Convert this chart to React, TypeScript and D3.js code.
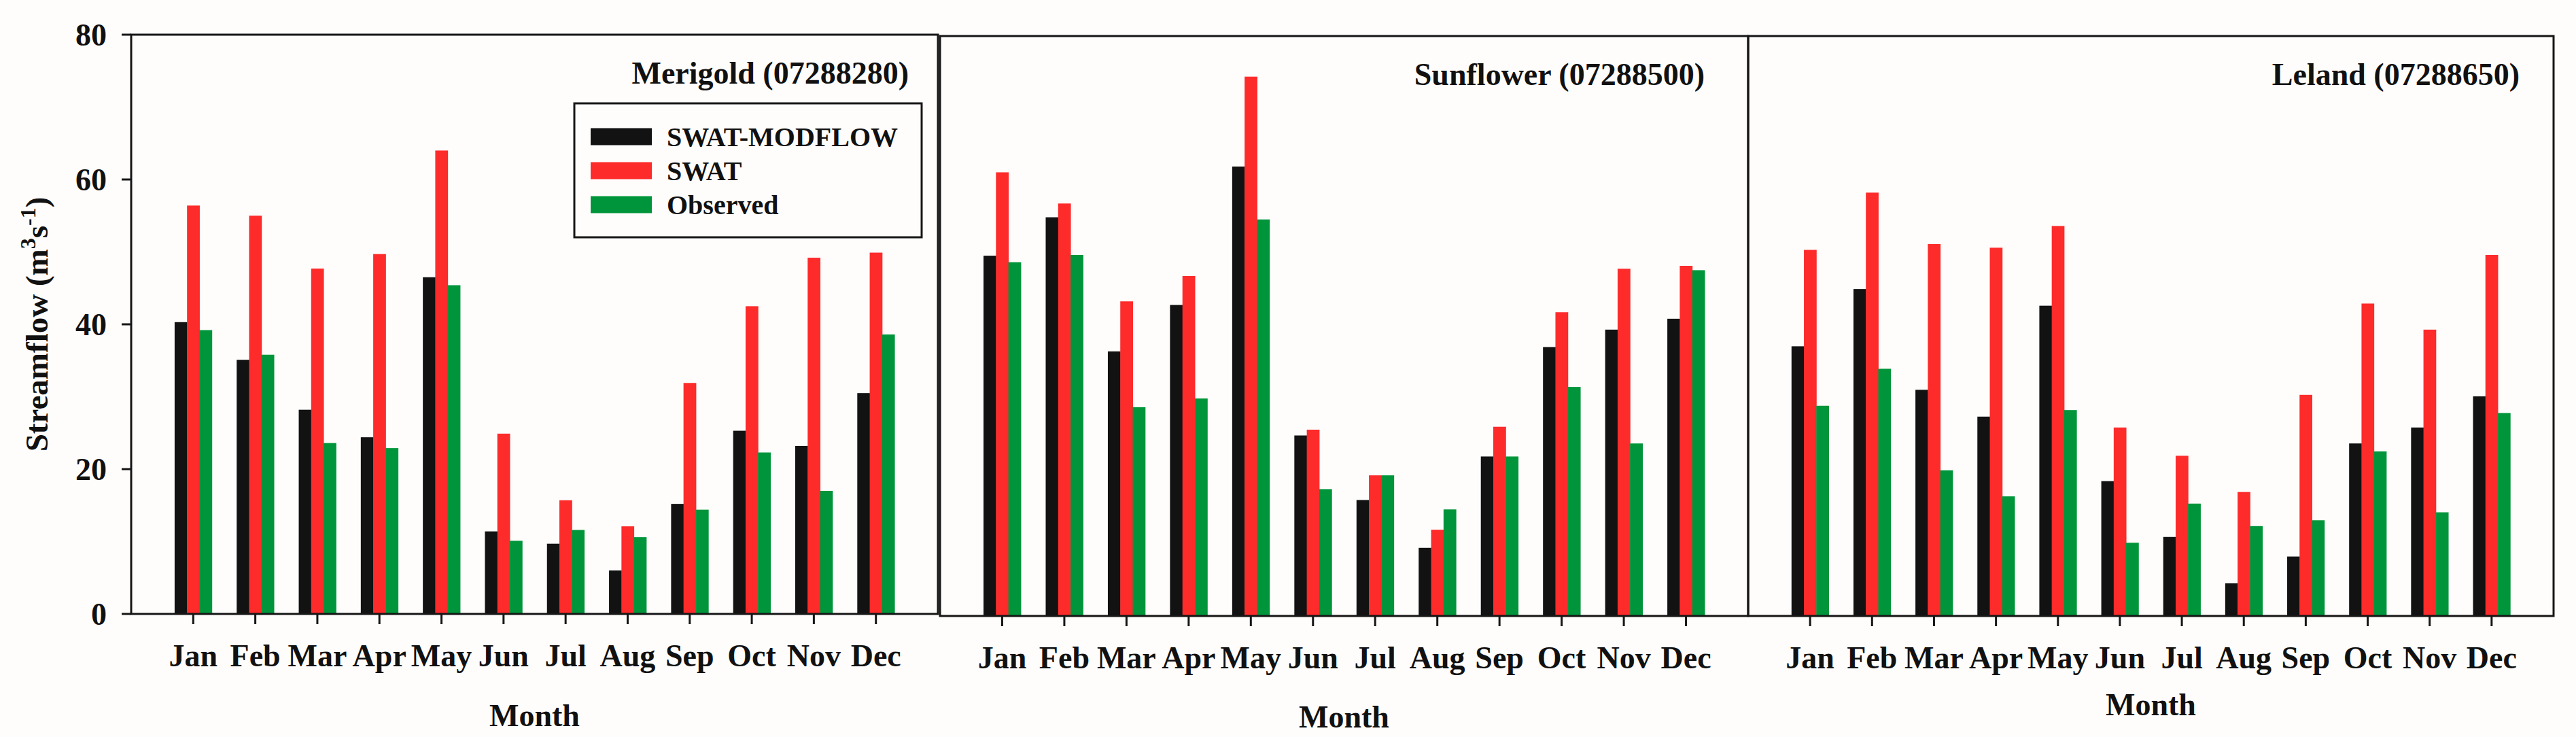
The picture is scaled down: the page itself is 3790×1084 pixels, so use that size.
import { useEffect, useRef } from 'react'
import * as d3 from 'd3'

const months = ['Jan', 'Feb', 'Mar', 'Apr', 'May', 'Jun', 'Jul', 'Aug', 'Sep', 'Oct', 'Nov', 'Dec']
const seriesNames = ['SWAT-MODFLOW', 'SWAT', 'Observed']
const seriesColors = ['#121212', '#fe2b2b', '#00953a']
const yTicks = [0, 20, 40, 60, 80]
const stationNames = ['Merigold (07288280)', 'Sunflower (07288500)', 'Leland (07288650)']

const merigoldSwatModflow = [40.3, 35.1, 28.2, 24.4, 46.5, 11.4, 9.7, 6.0, 15.2, 25.3, 23.2, 30.5]
const merigoldSwat = [56.4, 55.0, 47.7, 49.7, 64.0, 24.9, 15.7, 12.1, 31.9, 42.5, 49.2, 49.9]
const merigoldObserved = [39.2, 35.8, 23.6, 22.9, 45.4, 10.1, 11.6, 10.6, 14.4, 22.3, 17.0, 38.6]

const sunflowerSwatModflow = [49.7, 55.0, 36.5, 42.9, 62.0, 24.9, 16.0, 9.4, 22.0, 37.1, 39.5, 41.0]
const sunflowerSwat = [61.2, 56.9, 43.4, 46.9, 74.4, 25.7, 19.4, 11.9, 26.1, 41.9, 47.9, 48.3]
const sunflowerObserved = [48.8, 49.8, 28.8, 30.0, 54.7, 17.5, 19.4, 14.7, 22.0, 31.6, 23.8, 47.7]

const lelandSwatModflow = [37.2, 45.1, 31.2, 27.5, 42.8, 18.6, 10.9, 4.5, 8.2, 23.8, 26.0, 30.3]
const lelandSwat = [50.5, 58.4, 51.3, 50.8, 53.8, 26.0, 22.1, 17.1, 30.5, 43.1, 39.5, 49.8]
const lelandObserved = [29.0, 34.1, 20.1, 16.5, 28.4, 10.1, 15.5, 12.4, 13.2, 22.7, 14.3, 28.0]

const FONT = '"Liberation Serif", "Times New Roman", serif'

export default function App() {
  const svgRef = useRef<SVGSVGElement>(null)

  useEffect(() => {
    if (!svgRef.current) return
    const svg = d3.select(svgRef.current)
    svg.selectAll('*').remove()

    const W = 3790
    const H = 1084
    svg.attr('width', W).attr('height', H)

    svg.append('rect').attr('width', W).attr('height', H).attr('fill', '#fefdfc')

    // panel frames (pixel layout of the three stations)
    const panels = [
      { name: stationNames[0], left: 193, right: 1380, top: 51, bottom: 903, titleX: 1337, titleY: 123, monthY: 1068,
        values: [merigoldSwatModflow, merigoldSwat, merigoldObserved] },
      { name: stationNames[1], left: 1383, right: 2572, top: 53, bottom: 906, titleX: 2508, titleY: 125, monthY: 1070,
        values: [sunflowerSwatModflow, sunflowerSwat, sunflowerObserved] },
      { name: stationNames[2], left: 2572, right: 3757, top: 53, bottom: 906, titleX: 3707, titleY: 125, monthY: 1052,
        values: [lelandSwatModflow, lelandSwat, lelandObserved] },
    ]

    const lineColor = '#161616'

    panels.forEach((p, pi) => {
      const x = d3.scaleLinear().domain([0, months.length + 1]).range([p.left, p.right])
      const y = d3.scaleLinear().domain([0, 80]).range([p.bottom, p.top])
      const step = x(1) - x(0)
      const barW = step * 0.2

      const g = svg.append('g')

      // bars
      p.values.forEach((vals, si) => {
        g.selectAll(`.bar-${si}`)
          .data(vals)
          .enter()
          .append('rect')
          .attr('x', (d, i) => x(i + 1) - 1.5 * barW + si * barW)
          .attr('width', barW + 0.5)
          .attr('y', d => y(d))
          .attr('height', d => y(0) - y(d))
          .attr('fill', seriesColors[si])
      })

      // frame
      g.append('rect')
        .attr('x', p.left)
        .attr('y', p.top)
        .attr('width', p.right - p.left)
        .attr('height', p.bottom - p.top)
        .attr('fill', 'none')
        .attr('stroke', lineColor)
        .attr('stroke-width', 3)

      // x ticks and labels
      const xAxis = g.append('g')
      months.forEach((m, i) => {
        xAxis.append('line')
          .attr('x1', x(i + 1)).attr('x2', x(i + 1))
          .attr('y1', p.bottom).attr('y2', p.bottom + 15)
          .attr('stroke', lineColor).attr('stroke-width', 3)
        xAxis.append('text')
          .attr('x', x(i + 1))
          .attr('y', p.bottom + 77)
          .attr('text-anchor', 'middle')
          .style('font-family', FONT)
          .style('font-weight', 'bold')
          .style('font-size', '46px')
          .attr('fill', '#111')
          .text(m)
      })

      g.append('text')
        .attr('x', (p.left + p.right) / 2)
        .attr('y', p.monthY)
        .attr('text-anchor', 'middle')
        .style('font-family', FONT)
        .style('font-weight', 'bold')
        .style('font-size', '46px')
        .attr('fill', '#111')
        .text('Month')

      // station title
      g.append('text')
        .attr('x', p.titleX)
        .attr('y', p.titleY)
        .attr('text-anchor', 'end')
        .style('font-family', FONT)
        .style('font-weight', 'bold')
        .style('font-size', '46px')
        .attr('fill', '#111')
        .text(p.name)

      // y axis only on the first panel
      if (pi === 0) {
        yTicks.forEach(t => {
          g.append('line')
            .attr('x1', p.left - 14).attr('x2', p.left)
            .attr('y1', y(t)).attr('y2', y(t))
            .attr('stroke', lineColor).attr('stroke-width', 3)
          g.append('text')
            .attr('x', 157)
            .attr('y', y(t))
            .attr('dy', '0.35em')
            .attr('text-anchor', 'end')
            .style('font-family', FONT)
            .style('font-weight', 'bold')
            .style('font-size', '46px')
            .attr('fill', '#111')
            .text(t)
        })

        const yLabel = g.append('text')
          .attr('transform', `translate(70, ${(p.top + p.bottom) / 2}) rotate(-90)`)
          .attr('text-anchor', 'middle')
          .style('font-family', FONT)
          .style('font-weight', 'bold')
          .style('font-size', '47px')
          .attr('fill', '#111')
        yLabel.append('tspan').text('Streamflow (m')
        yLabel.append('tspan').attr('dy', -18).style('font-size', '32px').text('3')
        yLabel.append('tspan').attr('dy', 18).text('s')
        yLabel.append('tspan').attr('dy', -18).style('font-size', '32px').text('-1')
        yLabel.append('tspan').attr('dy', 18).text(')')

        // legend
        const legend = g.append('g')
        legend.append('rect')
          .attr('x', 845).attr('y', 152)
          .attr('width', 511).attr('height', 197)
          .attr('fill', '#fefdfc')
          .attr('stroke', lineColor)
          .attr('stroke-width', 3)
        seriesNames.forEach((name, i) => {
          const cy = 201 + i * 50
          legend.append('rect')
            .attr('x', 869).attr('y', cy - 12.5)
            .attr('width', 90).attr('height', 25)
            .attr('fill', seriesColors[i])
          legend.append('text')
            .attr('x', 981).attr('y', cy)
            .attr('dy', '0.35em')
            .style('font-family', FONT)
            .style('font-weight', 'bold')
            .style('font-size', '40px')
            .attr('fill', '#111')
            .text(name)
        })
      }
    })
  }, [])

  return (
    <svg ref={svgRef} style={{ position: 'absolute', left: 0, top: 0, display: 'block' }}></svg>
  )
}
